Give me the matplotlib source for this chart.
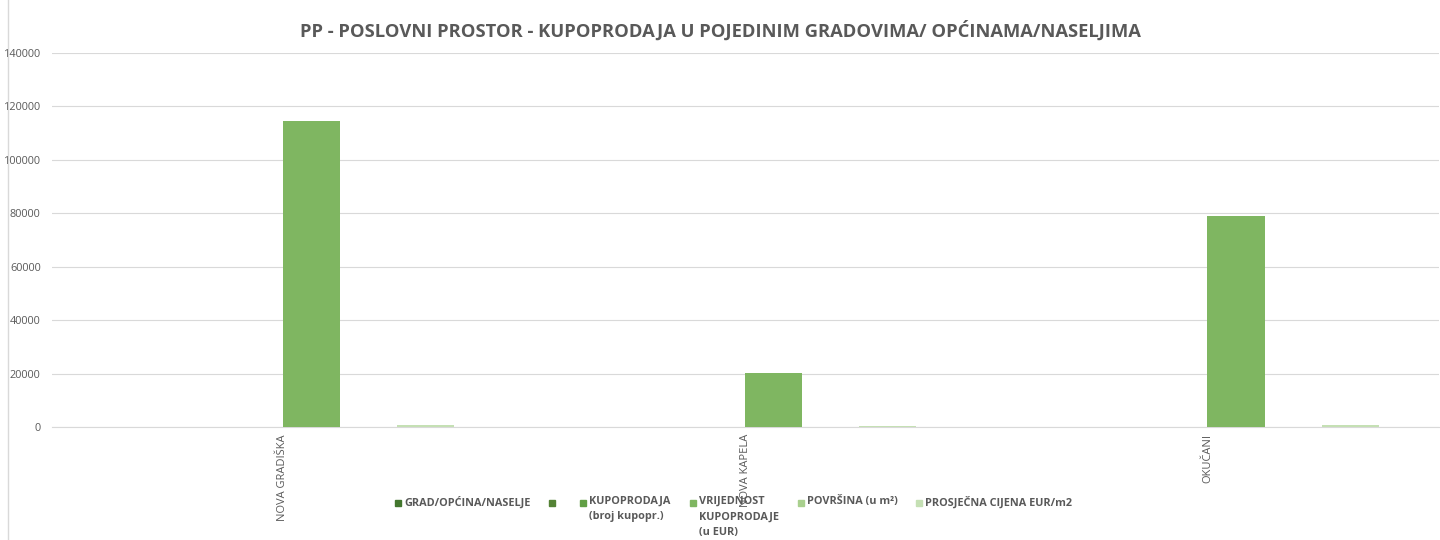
import numpy as np
import matplotlib.pyplot as plt
from matplotlib.patches import Rectangle

plt.rcParams['font.family'] = ['Open Sans', 'DejaVu Sans']

# podaci
gradovi = ['NOVA GRADIŠKA', 'NOVA KAPELA', 'OKUČANI']
serije = ['GRAD/OPĆINA/NASELJE', '', 'KUPOPRODAJA\n(broj kupopr.)',
          'VRIJEDNOST\nKUPOPRODAJE\n(u EUR)', 'POVRŠINA (u m²)', 'PROSJEČNA CIJENA EUR/m2']
grad = [0, 0, 0]
prazno = [0, 0, 0]
kupoprodaja = [2, 1, 1]
vrijednost = [114500, 20100, 79000]
povrsina = [150, 60, 110]
prosjecna_cijena = [760, 330, 720]
boje = ['#43772e', '#548235', '#629f45', '#7fb661', '#a9d08e', '#c5e0b4']

vrijednosti = [grad, prazno, kupoprodaja, vrijednost, povrsina, prosjecna_cijena]

fig = plt.figure(figsize=(14.4, 5.4), dpi=100)
ax = fig.add_axes([0.036, 0.209, 0.963, 0.693])

x = np.arange(len(gradovi))
n = len(serije)
w = 1 / (n + 2.1)
for i, (vals, c) in enumerate(zip(vrijednosti, boje)):
    ax.bar(x + (i - n / 2) * w, vals, width=w, align='edge', color=c, zorder=3)

ax.set_xlim(-0.5, len(gradovi) - 0.5)
ax.set_ylim(0, 140000)
ax.set_yticks(np.arange(0, 140001, 20000))
ax.tick_params(axis='y', length=0, labelsize=7.8, labelcolor='#595959', pad=8)
ax.set_xticks(x)
ax.set_xticklabels(gradovi, rotation=90, fontsize=8, color='#595959', va='top')
ax.tick_params(axis='x', length=0, pad=5)
ax.grid(axis='y', color='#d9d9d9', linewidth=0.8, zorder=0)
for s in ['left', 'right', 'top']:
    ax.spines[s].set_visible(False)
ax.spines['bottom'].set_color('#d9d9d9')

fig.text(0.5, 0.943, 'PP - POSLOVNI PROSTOR - KUPOPRODAJA U POJEDINIM GRADOVIMA/ OPĆINAMA/NASELJIMA',
         ha='center', va='center', fontsize=13.2, fontweight='bold', color='#595959')

# legenda
leg_x = [395, 549, 580, 690, 798, 916]
for lx, lab, c in zip(leg_x, serije, boje):
    fig.patches.append(Rectangle((lx / 1440, 1 - 506 / 540), 6 / 1440, 6 / 540,
                                 transform=fig.transFigure, color=c))
    fig.text((lx + 9) / 1440, 1 - 496 / 540, lab, ha='left', va='top', fontsize=7.8,
             fontweight='bold', color='#595959', linespacing=1.55)

fig.patches.append(Rectangle((8 / 1440, -0.01), 1.1, 1.1, transform=fig.transFigure,
                             fill=False, edgecolor='#d9d9d9', linewidth=1))

fig.savefig('out.png', dpi=100)
